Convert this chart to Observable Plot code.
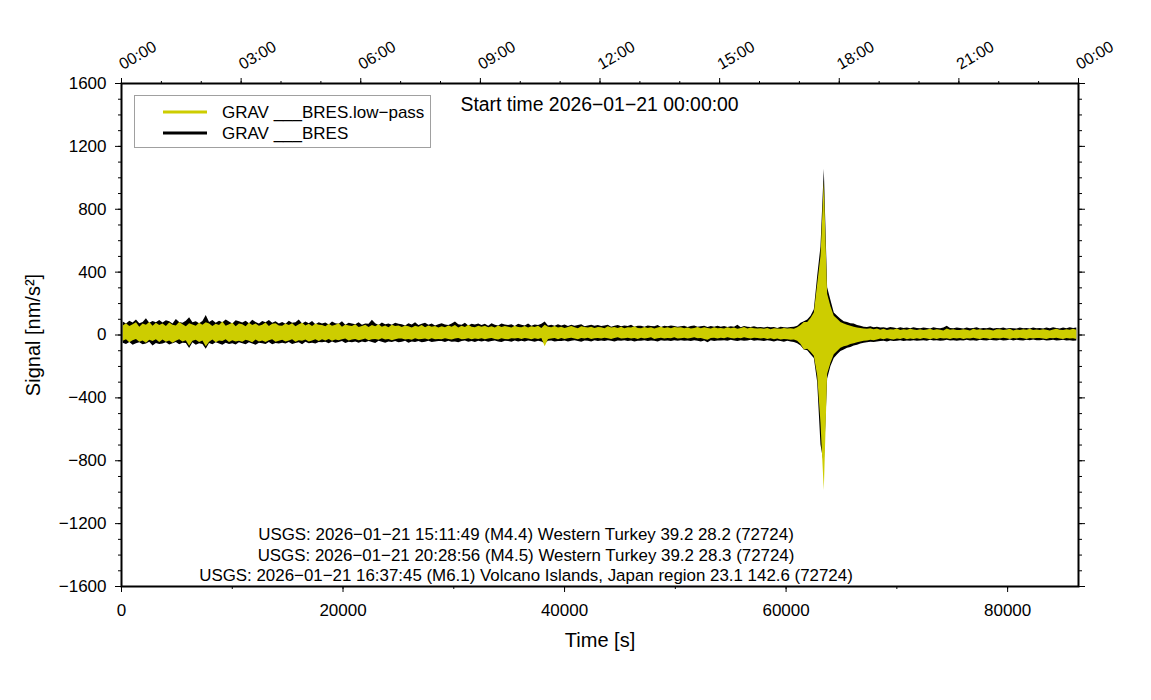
<!DOCTYPE html>
<html><head><meta charset="utf-8">
<script src="https://cdn.jsdelivr.net/npm/d3@7"></script>
<script src="https://cdn.jsdelivr.net/npm/@observablehq/plot@0.6"></script>
<style>
body{margin:0;background:#fff;}
#chart svg{font-family:"Liberation Sans", Arial, Helvetica, sans-serif;}
</style>
</head><body><div id="chart"></div>
<script>
// ---- data (envelopes per 300 s bin, nm/s^2) ----
const binSeconds = 300;
const blackMax = [
 82, 70, 88, 76, 95, 72, 80,104, 74, 86, 78, 92,
 76, 90, 84, 70, 98, 80, 74, 88,110, 78, 84, 72,
 86,124, 80, 92, 74, 88, 78, 96, 82, 70, 90, 84,
 76, 88, 72, 94, 80, 70, 86, 78, 92, 74, 84, 70,
 80, 68, 88, 74, 78, 96, 70, 82, 72, 86, 66, 78,
 70, 76, 64, 82, 72, 68, 84, 62, 74, 70, 66, 78,
 62, 70, 68, 94, 72, 60, 76, 66, 70, 62, 74, 68,
 66, 58, 72, 64, 78, 60, 68, 74, 62, 70, 58, 66,
 72, 64, 60, 70, 82, 66, 62, 74, 58, 68, 64, 70,
 60, 68, 56, 72, 62, 58, 70, 64, 60, 66, 54, 68,
 62, 58, 70, 56, 64, 60, 68, 82, 58, 62, 56, 66,
 58, 64, 54, 62, 56, 60, 66, 52, 58, 62, 56, 60,
 54, 58, 62, 50, 56, 60, 52, 58, 54, 62, 50, 56,
 56, 50, 58, 54, 52, 60, 48, 56, 52, 58, 54, 50,
 52, 56, 48, 54, 58, 50, 52, 56, 48, 54, 50, 56,
 50, 54, 48, 52, 50, 62, 46, 54, 50, 48, 52, 46,
 48, 44, 50, 46, 48, 42, 50, 46, 44, 48, 50, 56,
 75, 85, 95,120,160,370,560,1055,300,220,140,120,
100, 85, 80, 72, 70, 60, 55, 50, 48, 52, 46, 50,
 44, 46, 42, 48, 44, 40, 46, 42, 44, 40, 46, 42,
 40, 44, 42, 38, 46, 42, 40, 44, 56, 42, 40, 44,
 42, 38, 44, 40, 42, 46, 38, 42, 40, 44, 38, 42,
 40, 44, 38, 42, 40, 38, 44, 40, 42, 38, 44, 40,
 42, 38, 44, 40, 46, 42, 38, 44, 40, 46, 42, 44
];
const blackMin = [
 -52,-60,-48,-66,-55,-50,-62,-58,-46,-70,-54,-60,
 -58,-50,-64,-56,-48,-62,-52,-54,-86,-50,-66,-56,
 -60,-90,-54,-62,-50,-58,-66,-52,-60,-56,-64,-50,
 -56,-62,-50,-58,-66,-52,-56,-60,-48,-62,-54,-58,
 -52,-58,-48,-60,-54,-50,-62,-46,-56,-52,-58,-48,
 -50,-46,-56,-44,-52,-48,-42,-54,-46,-50,-44,-52,
 -44,-50,-42,-48,-54,-40,-46,-52,-44,-48,-42,-50,
 -46,-40,-52,-44,-48,-42,-50,-46,-40,-48,-44,-42,
 -42,-48,-40,-46,-44,-50,-42,-38,-46,-42,-48,-40,
 -44,-40,-46,-42,-38,-44,-48,-40,-42,-46,-38,-44,
 -40,-44,-38,-42,-46,-40,-44,-56,-40,-38,-44,-42,
 -42,-38,-44,-40,-36,-42,-46,-38,-40,-44,-36,-42,
 -38,-42,-36,-40,-44,-38,-40,-36,-42,-38,-44,-40,
 -40,-36,-42,-38,-40,-44,-36,-40,-38,-42,-36,-40,
 -36,-40,-38,-42,-36,-40,-44,-38,-50,-36,-42,-38,
 -38,-36,-40,-34,-38,-42,-36,-40,-38,-34,-40,-36,
 -38,-42,-36,-40,-44,-38,-42,-46,-40,-44,-48,-55,
 -70,-95,-100,-125,-150,-300,-700,-820,-280,-200,-150,-125,
-105,-95,-85,-80,-70,-65,-58,-52,-50,-46,-48,-44,
 -42,-40,-44,-38,-42,-40,-36,-42,-38,-40,-36,-40,
 -38,-36,-40,-34,-38,-36,-40,-38,-34,-38,-36,-40,
 -36,-38,-34,-38,-36,-40,-34,-36,-38,-34,-36,-38,
 -34,-38,-36,-32,-38,-34,-36,-38,-34,-36,-32,-36,
 -36,-34,-38,-36,-34,-38,-36,-34,-38,-36,-40,-38
];
const lowpassMax = [
 58, 72, 54, 66, 78, 50, 70, 62, 80, 56, 74, 60,
 70, 54, 76, 62, 58, 80, 66, 52, 72, 64, 56, 74,
 62, 78, 70, 54, 68, 60, 82, 56, 66, 74, 52, 70,
 66, 52, 74, 60, 70, 56, 62, 76, 54, 68, 72, 58,
 56, 70, 60, 72, 52, 66, 74, 58, 68, 54, 70, 62,
 60, 52, 68, 56, 62, 72, 50, 64, 58, 54, 66, 48,
 54, 62, 48, 60, 52, 66, 50, 58, 46, 62, 54, 58,
 48, 58, 52, 44, 56, 50, 60, 46, 58, 50, 54, 44,
 52, 46, 58, 50, 60, 44, 56, 48, 62, 50, 46, 56,
 50, 56, 46, 52, 44, 58, 48, 54, 50, 44, 56, 48,
 46, 54, 44, 52, 48, 56, 42, 62, 50, 46, 54, 44,
 50, 42, 48, 54, 46, 40, 52, 48, 44, 50, 42, 48,
 46, 40, 52, 44, 48, 42, 50, 40, 46, 44, 52, 42,
 40, 48, 42, 46, 38, 44, 50, 42, 46, 40, 48, 44,
 46, 40, 44, 38, 42, 48, 40, 46, 42, 38, 46, 40,
 42, 38, 46, 40, 44, 36, 42, 48, 38, 44, 40, 38,
 40, 36, 42, 34, 40, 38, 36, 42, 38, 40, 36, 46,
 60, 80, 80,105,140,320,500,975,260,180,120,100,
 80, 70, 62, 55, 50, 45, 42, 38, 36, 40, 34, 38,
 30, 36, 28, 34, 32, 38, 28, 34, 30, 36, 32, 28,
 34, 28, 32, 36, 28, 34, 30, 26, 38, 30, 34, 28,
 28, 34, 30, 26, 36, 30, 34, 28, 32, 30, 26, 34,
 34, 28, 32, 36, 26, 32, 28, 34, 30, 36, 28, 32,
 28, 34, 30, 26, 32, 36, 30, 28, 34, 30, 36, 30
];
const lowpassMin = [
 -40,-30,-50,-36,-28,-46,-38,-52,-34,-42,-30,-48,
 -32,-46,-38,-52,-40,-30,-44,-36,-72,-40,-34,-48,
 -38,-74,-46,-32,-50,-38,-42,-30,-48,-36,-44,-40,
 -46,-34,-40,-50,-32,-44,-38,-48,-36,-30,-46,-40,
 -34,-44,-38,-30,-46,-36,-40,-32,-44,-38,-30,-42,
 -30,-38,-28,-40,-32,-36,-30,-26,-38,-32,-28,-36,
 -32,-26,-36,-30,-28,-34,-24,-32,-28,-36,-30,-26,
 -26,-32,-28,-34,-24,-30,-28,-26,-32,-24,-30,-28,
 -30,-24,-28,-32,-26,-22,-30,-28,-24,-30,-26,-28,
 -24,-30,-26,-22,-28,-32,-24,-28,-30,-24,-26,-22,
 -28,-22,-26,-30,-24,-28,-22,-75,-28,-26,-22,-30,
 -22,-28,-24,-20,-26,-30,-22,-26,-20,-28,-24,-22,
 -26,-20,-24,-28,-22,-18,-26,-24,-20,-26,-22,-28,
 -20,-26,-22,-18,-28,-24,-20,-26,-22,-24,-18,-26,
 -24,-20,-26,-22,-18,-24,-22,-28,-34,-22,-20,-26,
 -20,-24,-18,-22,-26,-20,-24,-18,-22,-26,-20,-22,
 -26,-22,-28,-24,-30,-26,-32,-28,-30,-34,-32,-40,
 -60,-95,-90,-110,-135,-260,-560,-990,-250,-180,-125,-105,
 -85,-75,-70,-60,-55,-50,-45,-40,-38,-34,-36,-32,
 -26,-30,-24,-28,-32,-26,-28,-22,-30,-26,-28,-24,
 -28,-22,-26,-30,-24,-28,-22,-26,-24,-28,-22,-26,
 -22,-28,-24,-26,-20,-26,-28,-22,-24,-28,-22,-24,
 -26,-20,-24,-28,-22,-26,-20,-24,-28,-22,-26,-22,
 -22,-26,-28,-22,-24,-20,-26,-28,-22,-26,-24,-28
];
const yTicks = [-1600, -1200, -800, -400, 0, 400, 800, 1200, 1600];
const xTicks = [0, 20000, 40000, 60000, 80000];
const topTickSeconds = [0, 10800, 21600, 32400, 43200, 54000, 64800, 75600, 86400];
const topTickLabels = ["00:00", "03:00", "06:00", "09:00", "12:00", "15:00", "18:00", "21:00", "00:00"];
const eventLines = [
  "USGS: 2026−01−21 15:11:49 (M4.4) Western Turkey 39.2 28.2 (72724)",
  "USGS: 2026−01−21 20:28:56 (M4.5) Western Turkey 39.2 28.3 (72724)",
  "USGS: 2026−01−21 16:37:45 (M6.1) Volcano Islands, Japan region 23.1 142.6 (72724)"
];
const seriesNames = ["GRAV ___BRES.low−pass", "GRAV ___BRES"];
const seriesColors = ["#cdcd00", "#000000"];
const startText = "Start time 2026−01−21 00:00:00";

// ---- build table ----
const bins = blackMax.map((v, i) => ({
  t: i * binSeconds + binSeconds / 2,
  bMax: v, bMin: blackMin[i], lMax: lowpassMax[i], lMin: lowpassMin[i]
}));
const yMinor = d3.range(-1600, 1601, 100);
const xMinor = d3.range(0, 86401, 10000);
const hourMinor = d3.range(0, 86401, 3600);
const fmtNum = d => d < 0 ? "\u2212" + Math.abs(d) : String(d);

const W = 1151, H = 700, mL = 121, mR = 73, mT = 83, mB = 114;
const chart = Plot.plot({
  width: W, height: H,
  marginLeft: mL, marginRight: mR, marginTop: mT, marginBottom: mB,
  style: {fontFamily: "'Liberation Sans', Arial, sans-serif", fontSize: "17px", color: "black", background: "white", overflow: "visible"},
  x: {domain: [0, 86400], axis: null},
  y: {domain: [-1600, 1600], axis: null},
  marks: [
    Plot.areaY(bins, {x: "t", y1: "bMin", y2: "bMax", fill: seriesColors[1], curve: "linear"}),
    Plot.areaY(bins, {x: "t", y1: "lMin", y2: "lMax", fill: seriesColors[0], curve: "linear"}),
    Plot.axisY({anchor: "left", ticks: yMinor, tickSize: 3, tickFormat: () => "", label: null}),
    Plot.axisY({anchor: "left", ticks: yTicks, tickSize: 6, tickPadding: 9, tickFormat: fmtNum, label: null, fontSize: 17}),
    Plot.axisY({anchor: "right", ticks: yMinor, tickSize: 3, tickFormat: () => "", label: null}),
    Plot.axisY({anchor: "right", ticks: yTicks, tickSize: 6, tickFormat: () => "", label: null}),
    Plot.axisX({anchor: "bottom", ticks: xMinor, tickSize: 3, tickFormat: () => "", label: null}),
    Plot.axisX({anchor: "bottom", ticks: xTicks, tickSize: 6, tickPadding: 11, tickFormat: d => String(d), label: null, fontSize: 17}),
    Plot.axisX({anchor: "top", ticks: hourMinor, tickSize: 3, tickFormat: () => "", label: null}),
    Plot.axisX({anchor: "top", ticks: topTickSeconds, tickSize: 6, tickFormat: () => "", label: null}),
    Plot.text(topTickSeconds, {x: d => d, text: (d, i) => topTickLabels[i], frameAnchor: "top", lineAnchor: "middle", dx: -1, dy: -18, rotate: -30, textAnchor: "start", fontSize: 16}),
    Plot.frame({stroke: "black", strokeWidth: 2}),
    Plot.text([startText], {text: d => d, frameAnchor: "top-left", dx: 339, dy: 14, textAnchor: "start", fontSize: 19.4}),
    Plot.text([eventLines[0]], {text: d => d, frameAnchor: "bottom", textAnchor: "middle", dx: -74, dy: -47, fontSize: 16.9}),
    Plot.text([eventLines[1]], {text: d => d, frameAnchor: "bottom", textAnchor: "middle", dx: -74, dy: -26, fontSize: 16.9}),
    Plot.text([eventLines[2]], {text: d => d, frameAnchor: "bottom", textAnchor: "middle", dx: -74, dy: -6, fontSize: 16.9}),
    Plot.text(["Time [s]"], {text: d => d, frameAnchor: "bottom", textAnchor: "middle", dy: 60, fontSize: 20}),
    Plot.text(["Signal [nm/s²]"], {text: d => d, frameAnchor: "left", textAnchor: "middle", lineAnchor: "middle", dx: -88, rotate: -90, fontSize: 20})
  ]
});
document.getElementById("chart").appendChild(chart);

// ---- legend (pixel layout inside the frame) ----
const svg = d3.select(chart);
const lg = svg.append("g").attr("font-family", "'Liberation Sans', Arial, sans-serif").attr("font-size", 17).attr("text-anchor", "start");
lg.append("rect").attr("x", 134.5).attr("y", 95.5).attr("width", 296).attr("height", 52)
  .attr("fill", "white").attr("stroke", "#a0a0a0").attr("stroke-width", 1);
seriesNames.forEach((name, i) => {
  const y = 112 + i * 21;
  lg.append("line").attr("x1", 163).attr("x2", 207).attr("y1", y).attr("y2", y)
    .attr("stroke", seriesColors[i]).attr("stroke-width", 3);
  lg.append("text").attr("x", 222).attr("y", y).attr("dy", "0.35em").attr("text-anchor", "start").attr("fill", "black").text(name);
});
</script>
</body></html>
